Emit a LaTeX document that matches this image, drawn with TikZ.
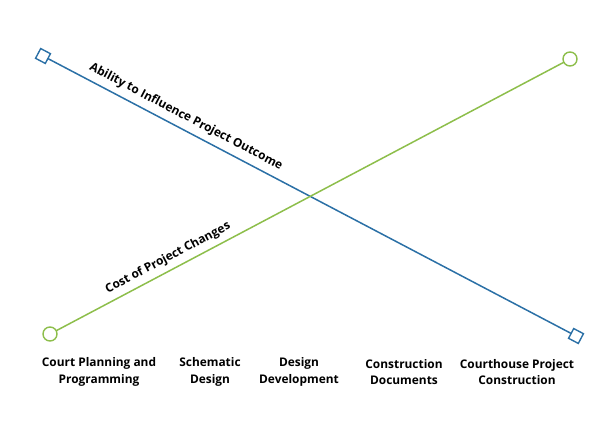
\documentclass[tikz,border=0pt]{standalone}
\usepackage{fontspec}
\setmainfont{Open Sans}
\definecolor{lblue}{HTML}{2B70A6}
\definecolor{lgreen}{HTML}{8DBE4B}
\begin{document}
\begin{tikzpicture}[x=1pt,y=-1pt,
  lab/.style={font=\bfseries\fontsize{11.9}{16.5}\selectfont,align=center,inner sep=1pt},
  sq/.style={draw=lblue,fill=white,line width=1.4pt,minimum size=11pt,inner sep=0pt},
  ci/.style={circle,draw=lgreen,fill=white,line width=1.4pt,minimum size=14pt,inner sep=0pt}]
\useasboundingbox (0,0) rectangle (615,427);
\coordinate (b1) at (43,56);
\coordinate (b2) at (576,336);
\coordinate (g1) at (50,334);
\coordinate (g2) at (570,59);
\draw[lblue,line width=1.5pt] (b1) -- (b2);
\draw[lgreen,line width=1.5pt] (g1) -- (g2);
\node[sq,rotate=-27.7] (bs1) at (b1) {};
\node[sq,rotate=-27.7] (bs2) at (b2) {};
\node[ci] (gc1) at (g1) {};
\node[ci] (gc2) at (g2) {};
\node[lab,rotate=-27.7] (t1) at (186,117) {Ability to Influence Project Outcome};
\node[lab,rotate=27.9] (t2) at (168,258) {Cost of Project Changes};
\node[lab] (c1) at (99,372) {Court Planning and\\Programming};
\node[lab] (c2) at (210,372) {Schematic\\Design};
\node[lab] (c3) at (299,372) {Design\\Development};
\node[lab] (c4) at (404,372) {Construction\\Documents};
\node[lab] (c5) at (517,372) {Courthouse Project\\Construction};
\end{tikzpicture}
\end{document}
